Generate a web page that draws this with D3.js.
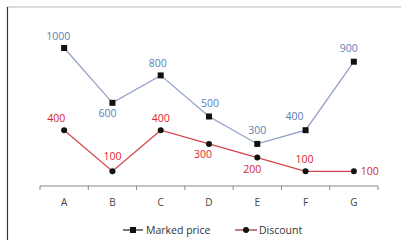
<!DOCTYPE html>
<html>
<head>
<meta charset="utf-8">
<script src="https://cdn.jsdelivr.net/npm/d3@7"></script>
<style>
  body { margin: 0; background: #fff; }
  text { font-family: "Open Sans", "Liberation Sans", sans-serif; }
</style>
</head>
<body>
<svg id="chart" width="401" height="240"></svg>
<script>
`use strict`;

const categories = [`A`, `B`, `C`, `D`, `E`, `F`, `G`];
const markedPrice = [1000, 600, 800, 500, 300, 400, 900];
const discount = [400, 100, 400, 300, 200, 100, 100];
const seriesNames = [`Marked price`, `Discount`];

(function () {

  const svg = d3.select(`#chart`);

  // outer frame (only top + left show in the picture)
  svg.append(`line`).attr(`x1`, 7).attr(`y1`, 7).attr(`x2`, 401).attr(`y2`, 7)
    .attr(`stroke`, `#b8b8b8`).attr(`stroke-width`, 1.2);
  svg.append(`line`).attr(`x1`, 7.5).attr(`y1`, 7).attr(`x2`, 7.5).attr(`y2`, 240)
    .attr(`stroke`, `#333`).attr(`stroke-width`, 1.2);

  const x = d3.scaleBand().domain(categories).range([40, 378]);
  const y = d3.scaleLinear().domain([0, 1000]).range([185, 48]);

  const cx = d => x(d) + x.bandwidth() / 2;

  // category axis
  const axis = svg.append(`g`).attr(`transform`, `translate(0,186)`);
  axis.append(`line`).attr(`x1`, 40).attr(`x2`, 378).attr(`stroke`, `#888`).attr(`stroke-width`, 1);
  const edges = categories.map(c => x(c)).concat([x.range()[1]]);
  axis.selectAll(`line.tk`).data(edges).enter().append(`line`)
    .attr(`class`, `tk`)
    .attr(`x1`, d => d).attr(`x2`, d => d)
    .attr(`y1`, 0).attr(`y2`, 4)
    .attr(`stroke`, `#888`);
  axis.selectAll(`text`).data(categories).enter().append(`text`)
    .attr(`x`, cx).attr(`y`, 20)
    .attr(`text-anchor`, `middle`)
    .style(`font-size`, `10px`)
    .style(`fill`, `#444`)
    .text(d => d);

  const line = d3.line().x(d => cx(d.c)).y(d => y(d.v));

  const mk = categories.map((c, i) => ({c: c, v: markedPrice[i]}));
  const dc = categories.map((c, i) => ({c: c, v: discount[i]}));

  svg.append(`path`).datum(mk).attr(`d`, line)
    .attr(`fill`, `none`).attr(`stroke`, `#8d9cc6`).attr(`stroke-width`, 1.2);
  svg.append(`path`).datum(dc).attr(`d`, line)
    .attr(`fill`, `none`).attr(`stroke`, `#d2454c`).attr(`stroke-width`, 1.2);

  svg.selectAll(`rect.mk`).data(mk).enter().append(`rect`)
    .attr(`class`, `mk`)
    .attr(`x`, d => cx(d.c) - 3).attr(`y`, d => y(d.v) - 3)
    .attr(`width`, 6).attr(`height`, 6)
    .attr(`fill`, `#111`);

  svg.selectAll(`circle.dc`).data(dc).enter().append(`circle`)
    .attr(`class`, `dc`)
    .attr(`cx`, d => cx(d.c)).attr(`cy`, d => y(d.v))
    .attr(`r`, 3)
    .attr(`fill`, `#111`);

  // data label offsets [dx, dy] from the point, text centred
  const mkOff = [[-6, -8], [-5, 14], [-3, -8], [1, -10], [0, -10], [-11, -10], [-5, -10]];
  svg.selectAll(`text.mkl`).data(mk).enter().append(`text`)
    .attr(`class`, `mkl`)
    .attr(`x`, (d, i) => cx(d.c) + mkOff[i][0])
    .attr(`y`, (d, i) => y(d.v) + mkOff[i][1])
    .attr(`text-anchor`, `middle`)
    .style(`font-size`, `10.5px`)
    .style(`fill`, `#5a80b8`)
    .text(d => d.v);

  const dcPos = [[-8, -8, `middle`], [0, -11, `middle`], [0, -8, `middle`],
    [-6, 14, `middle`], [-5, 15, `middle`], [-1, -8, `middle`], [7, 4, `start`]];
  svg.selectAll(`text.dcl`).data(dc).enter().append(`text`)
    .attr(`class`, `dcl`)
    .attr(`x`, (d, i) => cx(d.c) + dcPos[i][0])
    .attr(`y`, (d, i) => y(d.v) + dcPos[i][1])
    .attr(`text-anchor`, (d, i) => dcPos[i][2])
    .style(`font-size`, `10.5px`)
    .style(`fill`, `#d9262e`)
    .text(d => d.v);

  // legend
  const lg = svg.append(`g`).attr(`transform`, `translate(0,230)`);
  lg.append(`line`).attr(`x1`, 123).attr(`x2`, 143).attr(`stroke`, `#222`).attr(`stroke-width`, 1.2);
  lg.append(`rect`).attr(`x`, 130).attr(`y`, -3).attr(`width`, 6).attr(`height`, 6).attr(`fill`, `#111`);
  lg.append(`text`).attr(`x`, 146).attr(`y`, 4).style(`font-size`, `10.5px`).style(`fill`, `#333`).text(seriesNames[0]);
  lg.append(`line`).attr(`x1`, 235).attr(`x2`, 257).attr(`stroke`, `#8a2a30`).attr(`stroke-width`, 1.2);
  lg.append(`circle`).attr(`cx`, 246).attr(`cy`, 0).attr(`r`, 3).attr(`fill`, `#111`);
  lg.append(`text`).attr(`x`, 259).attr(`y`, 4).style(`font-size`, `10.5px`).style(`fill`, `#333`).text(seriesNames[1]);
})();
</script>
</body>
</html>
